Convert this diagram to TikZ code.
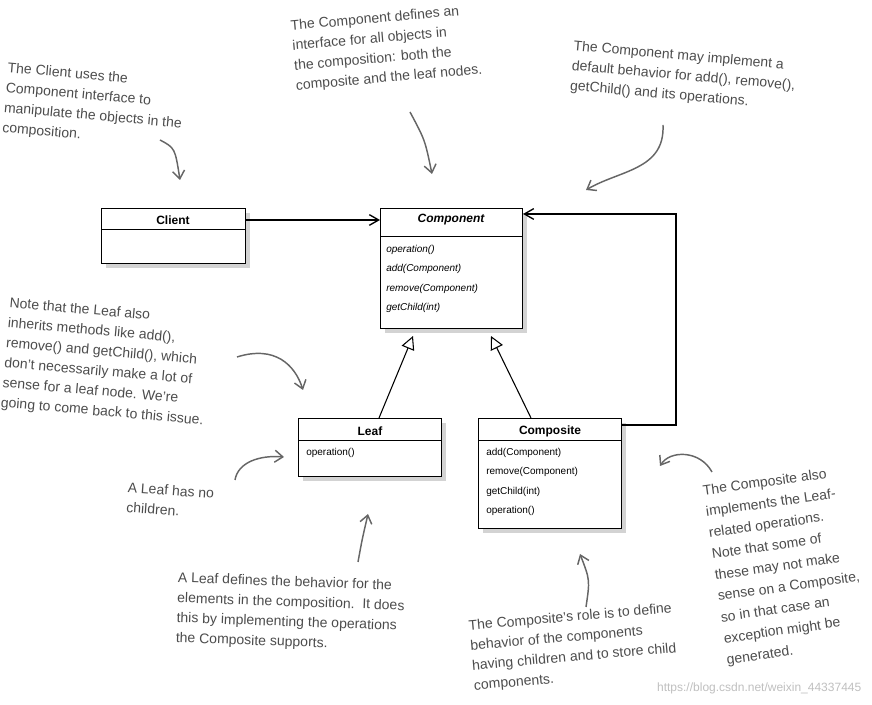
\documentclass[tikz,border=0pt]{standalone}
\usepackage{fontspec}
\setmainfont{Liberation Sans}
\usetikzlibrary{shadows,arrows.meta,calc}
\begin{document}
\begin{tikzpicture}[x=0.75pt,y=-0.75pt,
  box/.style={draw=black,fill=white,line width=0.8pt,anchor=north west,inner sep=0pt,drop shadow={opacity=0.35,shadow xshift=3pt,shadow yshift=-3pt}},
  hdr/.style={font=\bfseries\fontsize{9}{10}\selectfont,anchor=center},
  meth/.style={font=\fontsize{7.5}{14.5}\selectfont,align=left,anchor=north west,inner sep=0pt},
  note/.style={font=\fontsize{10.5}{15}\selectfont,text=black!70,align=left,anchor=north west,inner sep=0pt},
  narr/.style={draw=black!60,line width=1.1pt,-{Straight Barb[length=6pt,width=9pt]}},
  gen/.style={draw=black,line width=0.8pt,-{Triangle[open,length=10pt,width=10pt]}}]
\useasboundingbox (0,0) rectangle (872,705);
% boxes
\node[box,minimum width={0.75*144pt},minimum height={0.75*55pt}] (client) at (101,208) {};
\draw (101,229) -- (245,229);
\node[hdr] (clientt) at (173,220) {Client};
\node[box,minimum width={0.75*142pt},minimum height={0.75*120pt}] (comp) at (380,208) {};
\draw (380,236) -- (522,236);
\node[hdr,font=\bfseries\itshape\fontsize{9}{10}\selectfont] (compt) at (451,220) {Component};
\node[meth,font=\itshape\fontsize{7.5}{14.5}\selectfont] (compm) at (386,245) {operation()\\add(Component)\\remove(Component)\\getChild(int)};
\node[box,minimum width={0.75*143pt},minimum height={0.75*58pt}] (leaf) at (298,418) {};
\draw (298,440) -- (441,440);
\node[hdr] (leaft) at (370,431) {Leaf};
\node[meth] (leafm) at (306,448) {operation()};
\node[box,minimum width={0.75*143pt},minimum height={0.75*110pt}] (cs) at (478,418) {};
\draw (478,440) -- (621,440);
\node[hdr] (cst) at (550,431) {Composite};
\node[meth] (csm) at (486,448) {add(Component)\\remove(Component)\\getChild(int)\\operation()};
% connectors
\draw[line width=1pt,-{Straight Barb[length=7pt,width=8pt]}] (client.north east|-clientt) -- (comp.north west|-clientt);
\coordinate (c1) at (676,425);
\coordinate (c2) at (676,214);
\draw[line width=1pt,-{Straight Barb[length=7pt,width=8pt]}] (cs.north east|-c1) -- (c1) -- (c2) -- (comp.north east|-c2);
\coordinate (g1) at (413,336);
\coordinate (g2) at (491,336);
\draw[gen] (leaf.north west-|379,0) -- (g1);
\draw[gen] (cs.north west-|531,0) -- (g2);
% notes
\node[note,rotate=-5] (n1) at (8,62) {The Client uses the\\Component interface to\\manipulate the objects in the\\composition.};
\coordinate (a1s) at (160,140); \coordinate (a1e) at (180,180);
\draw[narr] (a1s) .. controls (175,148) .. (a1e);
\node[note,rotate=5] (n2) at (290,20) {The Component defines an\\interface for all objects in\\the composition: both the\\composite and the leaf nodes.};
\coordinate (a2s) at (410,112); \coordinate (a2e) at (432,174);
\draw[narr] (a2s) .. controls (425,140) .. (a2e);
\node[note,rotate=-5] (n3) at (574,40) {The Component may implement a\\default behavior for add(), remove(),\\getChild() and its operations.};
\coordinate (a3s) at (663,125); \coordinate (a3e) at (586,190);
\draw[narr] (a3s) .. controls (665,170) and (620,170) .. (a3e);
\node[note,rotate=-5] (n4) at (10,297) {Note that the Leaf also\\inherits methods like add(),\\remove() and getChild(), which\\don't necessarily make a lot of\\sense for a leaf node. We're\\going to come back to this issue.};
\coordinate (a4s) at (237,357); \coordinate (a4e) at (303,390);
\draw[narr] (a4s) .. controls (275,345) and (295,365) .. (a4e);
\node[note,rotate=-4] (n5) at (128,482) {A Leaf has no\\children.};
\coordinate (a5s) at (235,480); \coordinate (a5e) at (284,457);
\draw[narr] (a5s) .. controls (238,462) and (260,455) .. (a5e);
\node[note,rotate=-2] (n6) at (178,572) {A Leaf defines the behavior for the\\elements in the composition.\ \ It does\\this by implementing the operations\\the Composite supports.};
\coordinate (a6s) at (358,562); \coordinate (a6e) at (368,514);
\draw[narr] (a6s) .. controls (362,540) .. (a6e);
\node[note,rotate=5] (n7) at (468,620) {The Composite's role is to define\\behavior of the components\\having children and to store child\\components.};
\coordinate (a7s) at (586,607); \coordinate (a7e) at (580,554);
\draw[narr] (a7s) .. controls (590,580) .. (a7e);
\node[note,rotate=8,font=\fontsize{10.5}{16}\selectfont] (n8) at (702,485) {The Composite also\\implements the Leaf-\\related operations.\\Note that some of\\these may not make\\sense on a Composite,\\so in that case an\\exception might be\\generated.};
\coordinate (a8s) at (712,472); \coordinate (a8e) at (660,466);
\draw[narr] (a8s) .. controls (700,450) and (670,450) .. (a8e);
\node[font=\fontsize{9}{10}\selectfont,text=black!25,anchor=east] (wm) at (866,688) {https://blog.csdn.net/weixin\_44337445};
\end{tikzpicture}
\end{document}
